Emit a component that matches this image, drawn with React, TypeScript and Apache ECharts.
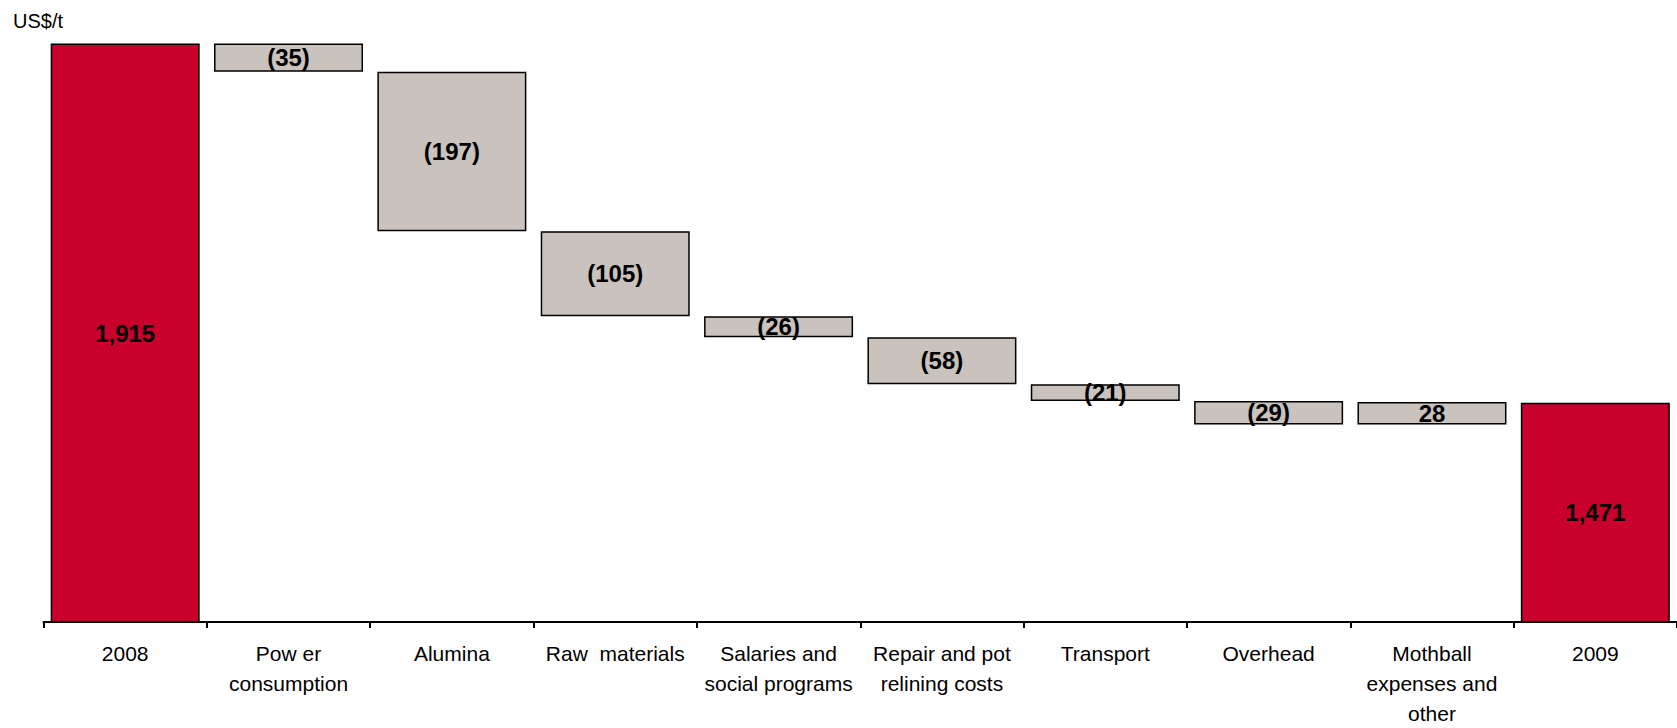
import React, { useEffect, useRef } from 'react';
import * as echarts from 'echarts';

const categories = [
  '2008',
  'Pow er\nconsumption',
  'Alumina',
  'Raw  materials',
  'Salaries and\nsocial programs',
  'Repair and pot\nrelining costs',
  'Transport',
  'Overhead',
  'Mothball\nexpenses and\nother',
  '2009',
];
const changes = [1915, -35, -197, -105, -26, -58, -21, -29, 28, 1471];
const isTotal = [true, false, false, false, false, false, false, false, false, true];
const valueLabels = ['1,915', '(35)', '(197)', '(105)', '(26)', '(58)', '(21)', '(29)', '28', '1,471'];
const yMin = 1200;
const yMax = 1915;
const unitLabel = 'US$/t';

const RED = '#C8002B';
const GRAY = '#C9C2BD';
const FONT = 'Liberation Sans, Arial, sans-serif';

export default function App() {
  const ref = useRef<HTMLDivElement>(null);
  useEffect(() => {
    if (!ref.current) return;
    const chart = echarts.init(ref.current, undefined, { renderer: 'svg' });
    const base: number[] = [];
    const height: number[] = [];
    let running = 0;
    changes.forEach((c, i) => {
      if (isTotal[i]) {
        base.push(0);
        height.push(c);
        running = c;
      } else {
        const next = running + c;
        base.push(Math.min(running, next));
        height.push(Math.abs(c));
        running = next;
      }
    });
    chart.setOption({
      animation: false,
      title: {
        text: unitLabel,
        left: 8,
        top: 6,
        textStyle: { fontSize: 20, fontWeight: 'normal', fontFamily: FONT, color: '#000' },
      },
      grid: { left: 43.5, right: -4, top: 43.5, bottom: 100, containLabel: false },
      xAxis: {
        type: 'category',
        data: categories,
        axisLine: { show: true, lineStyle: { color: '#000', width: 2 } },
        axisTick: {
          show: true,
          interval: 0,
          alignWithLabel: false,
          inside: false,
          length: 6,
          lineStyle: { color: '#000', width: 2 },
        },
        axisLabel: {
          interval: 0,
          margin: 16,
          fontSize: 21,
          lineHeight: 30,
          fontFamily: FONT,
          color: '#000',
          align: 'center',
        },
      },
      yAxis: {
        type: 'value',
        min: yMin,
        max: yMax,
        show: false,
        splitLine: { show: false },
      },
      series: [
        {
          type: 'bar',
          stack: 'w',
          data: base,
          itemStyle: { color: 'transparent', borderWidth: 0 },
          emphasis: { disabled: true },
          silent: true,
          barWidth: 149,
        },
        {
          type: 'bar',
          stack: 'w',
          barWidth: 149,
          data: height.map((h, i) => ({
            value: h,
            itemStyle: {
              color: isTotal[i] ? RED : GRAY,
              borderColor: '#000',
              borderWidth: 1.5,
            },
          })),
          label: {
            show: true,
            position: 'inside',
            fontSize: 24,
            fontWeight: 'bold',
            fontFamily: FONT,
            color: '#000',
            formatter: (p: any) => valueLabels[p.dataIndex],
          },
        },
      ],
    });
    return () => chart.dispose();
  }, []);
  return (
    <div
      ref={ref}
      style={{ position: 'fixed', left: 0, top: 0, width: 1677, height: 728, background: '#fff' }}
    />
  );
}
